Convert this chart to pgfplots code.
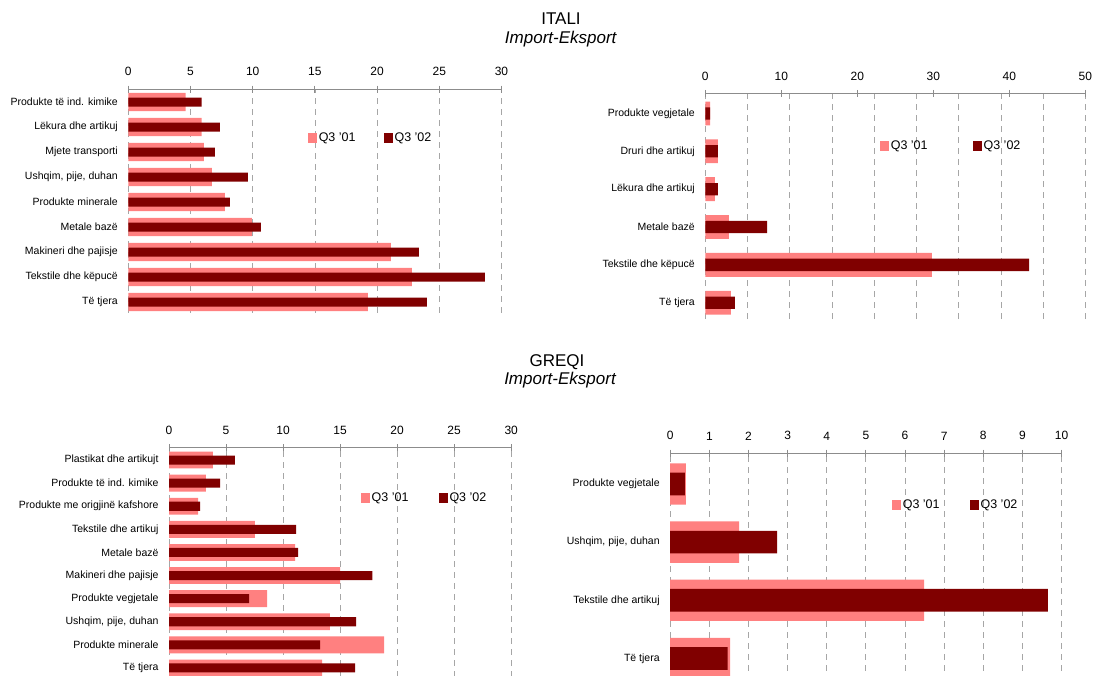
\documentclass[border=0pt]{standalone}
\usepackage{fontspec}
\setmainfont{Liberation Sans}
\usepackage{pgfplots}
\pgfplotsset{compat=1.18}

\definecolor{qone}{HTML}{FF8080}
\definecolor{qtwo}{HTML}{800000}
\definecolor{axgray}{HTML}{8C8C8C}
\definecolor{grgray}{HTML}{A6A6A6}

\pgfplotsset{
  panel/.style={
    scale only axis, anchor=north west,
    xbar, xmin=0,
    axis x line*=top, axis y line*=left,
    y axis line style={draw=none},
    x axis line style={axgray, line width=0.9pt, -},
    xtick align=center, major tick length=7pt,
    major x tick style={axgray, line width=0.9pt},
    major y tick style={draw=none},
    xminorgrids=true, minor tick length=0pt,
    minor x grid style={grgray, dash pattern=on 6pt off 5pt, line width=0.8pt},
    /pgf/number format/assume math mode=true,
    xticklabel style={font=\fontsize{12}{14}\selectfont, yshift=6pt},
    yticklabel style={font=\fontsize{10.5}{12}\selectfont},
    legend columns=2,
    legend style={anchor=west, draw=none, fill=none, inner sep=0pt,
      font=\fontsize{12.5}{14}\selectfont, nodes={inner sep=1.5pt}},
    legend image code/.code={\fill[##1, draw=none] (0pt,-5pt) rectangle (9pt,5pt);},
  },
  light/.style={fill=qone, draw=none, bar shift=0pt, forget plot},
  dark/.style={fill=qtwo, draw=none, bar shift=0pt, forget plot},
}

\begin{document}
\begin{tikzpicture}
\useasboundingbox (0pt,0pt) rectangle (1095pt,-675pt);

\node[anchor=base, font=\fontsize{17}{20}\selectfont] at (561pt,-24.3pt) {ITALI};
\node[anchor=base, font=\fontsize{17}{20}\selectfont\itshape] at (560.7pt,-43.4pt) {Import-Eksport};
\node[anchor=base, font=\fontsize{17}{20}\selectfont] at (557pt,-366.7pt) {GREQI};
\node[anchor=base, font=\fontsize{17}{20}\selectfont\itshape] at (560pt,-384.3pt) {Import-Eksport};

% ITALI - import
\begin{axis}[panel, at={(128.3pt,-89pt)}, width=373.2pt, height=223.75pt,
  xmax=30, ymin=-0.43, ymax=8.52,
  xtick={0,5,...,30}, minor xtick={0,5,...,30},
  ytick={0,...,8},
  yticklabels={Të tjera, Tekstile dhe këpucë, Makineri dhe pajisje, Metale bazë,
    Produkte minerale, {Ushqim, pije, duhan}, Mjete transporti,
    Lëkura dhe artikuj, Produkte të ind. kimike},
  legend style={at={(axis cs:14.45,6.56)},
    /tikz/every even column/.append style={column sep=27pt}},
]
\addplot[light, bar width=0.73] coordinates {(4.6,8) (5.9,7) (6.08,6) (6.72,5)
  (7.77,4) (9.94,3) (21.1,2) (22.8,1) (19.26,0)};
\addplot[dark, bar width=0.36] coordinates {(5.9,8) (7.37,7) (6.96,6) (9.62,5)
  (8.17,4) (10.66,3) (23.36,2) (28.66,1) (24.0,0)};
\addlegendimage{fill=qone, draw=none}
\addlegendimage{fill=qtwo, draw=none}
\legend{Q3 '01, Q3 '02}
\end{axis}

% ITALI - eksport
\begin{axis}[panel, at={(705.3pt,-93.4pt)}, width=380.1pt, height=225.6pt,
  xmax=50, ymin=-0.43, ymax=5.53,
  xtick={0,10,...,50},
  minor xtick={0,5.5556,11.1111,16.6667,22.2222,27.7778,33.3333,38.8889,44.4444,50},
  ytick={0,...,5},
  yticklabels={Të tjera, Tekstile dhe këpucë, Metale bazë, Lëkura dhe artikuj,
    Druri dhe artikuj, Produkte vegjetale},
  legend style={at={(axis cs:22.99,4.144)},
    /tikz/every even column/.append style={column sep=44pt}},
]
\addplot[light, bar width=0.63] coordinates {(0.63,5) (1.66,4) (1.26,3) (3.1,2)
  (29.8,1) (3.37,0)};
\addplot[dark, bar width=0.325] coordinates {(0.63,5) (1.66,4) (1.66,3) (8.12,2)
  (42.6,1) (3.9,0)};
\addlegendimage{fill=qone, draw=none}
\addlegendimage{fill=qtwo, draw=none}
\legend{Q3 '01, Q3 '02}
\end{axis}

% GREQI - import
\begin{axis}[panel, at={(169pt,-447.8pt)}, width=342.2pt, height=228.7pt,
  xmax=30, ymin=-0.37, ymax=9.53,
  xtick={0,5,...,30}, minor xtick={0,5,...,30},
  ytick={0,...,9},
  yticklabels={Të tjera, Produkte minerale, {Ushqim, pije, duhan},
    Produkte vegjetale, Makineri dhe pajisje, Metale bazë, Tekstile dhe artikuj,
    Produkte me origjinë kafshore, Produkte të ind. kimike, Plastikat dhe artikujt},
  legend style={at={(axis cs:16.83,7.355)},
    /tikz/every even column/.append style={column sep=29pt}},
]
\addplot[light, bar width=0.73] coordinates {(3.85,9) (3.23,8) (2.55,7) (7.53,6)
  (11.06,5) (15.0,4) (8.6,3) (14.11,2) (18.86,1) (13.43,0)};
\addplot[dark, bar width=0.39] coordinates {(5.78,9) (4.48,8) (2.73,7) (11.15,6)
  (11.32,5) (17.82,4) (7.03,3) (16.4,2) (13.25,1) (16.31,0)};
\addlegendimage{fill=qone, draw=none}
\addlegendimage{fill=qtwo, draw=none}
\legend{Q3 '01, Q3 '02}
\end{axis}

% GREQI - eksport
\begin{axis}[panel, at={(670.2pt,-453.1pt)}, width=391.3pt, height=228.7pt,
  xmax=10, ymin=-0.4, ymax=3.53,
  xtick={0,1,...,10}, minor xtick={0,1,...,10},
  ytick={0,...,3},
  yticklabels={Të tjera, Tekstile dhe artikuj, {Ushqim, pije, duhan},
    Produkte vegjetale},
  legend style={at={(axis cs:5.67,2.636)},
    /tikz/every even column/.append style={column sep=29pt}},
]
\addplot[light, bar width=0.71] coordinates {(0.40,3) (1.76,2) (6.49,1) (1.53,0)};
\addplot[dark, bar width=0.39] coordinates {(0.375,3) (2.73,2) (9.65,1) (1.47,0)};
\addlegendimage{fill=qone, draw=none}
\addlegendimage{fill=qtwo, draw=none}
\legend{Q3 '01, Q3 '02}
\end{axis}

\end{tikzpicture}
\end{document}
